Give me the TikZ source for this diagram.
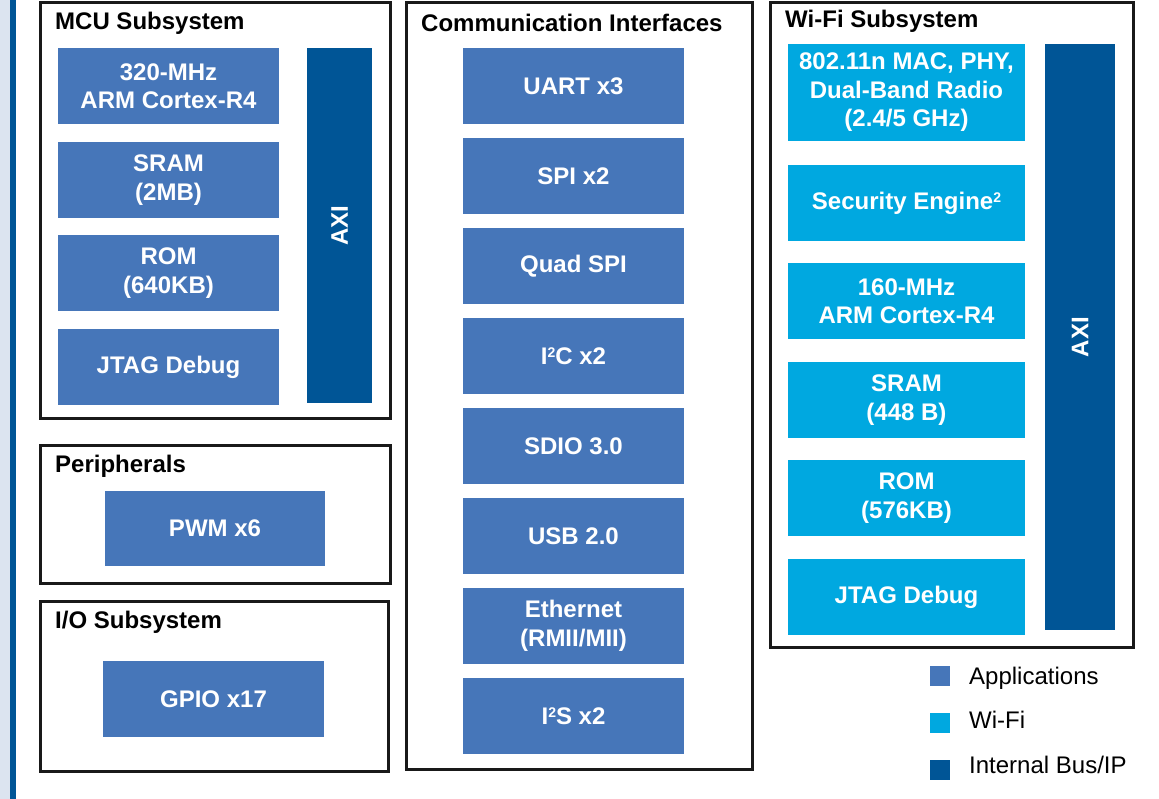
\documentclass[tikz,border=0pt]{standalone}
\usepackage{fontspec}
\setmainfont{Liberation Sans}
\usepackage{tikz}
\usetikzlibrary{positioning}
\definecolor{appcolor}{RGB}{70, 118, 185}
\definecolor{wificolor}{RGB}{0, 168, 224}
\definecolor{buscolor}{RGB}{0, 85, 150}
\definecolor{stripcolor}{RGB}{220, 228, 240}
\newcommand{\supnum}[1]{\raisebox{6.5pt}{\fontsize{14}{14}\selectfont #1}}

\begin{document}
\begin{tikzpicture}[
    x=1pt, y=-1pt,
    frame/.style={draw=black!90, line width=3pt, inner sep=0pt},
    title/.style={font=\fontsize{24}{28}\selectfont\bfseries, anchor=west, inner sep=0pt},
    block/.style={fill=appcolor, text=white, align=center, inner sep=0pt, minimum width=221pt, minimum height=76pt, font=\fontsize{24}{28.5}\selectfont\bfseries},
    wifiblock/.style={block, fill=wificolor, minimum width=237pt},
    bus/.style={fill=buscolor, text=white, inner sep=0pt, font=\fontsize{24}{28}\selectfont\bfseries},
    key/.style={fill=#1, minimum size=20pt, inner sep=0pt},
    keytext/.style={font=\fontsize{24}{28}\selectfont, anchor=west, inner sep=0pt},
]
    \useasboundingbox (0,0) rectangle (1159,799);

    % Side strip
    \fill[stripcolor] (0,0) rectangle (10,799);
    \fill[buscolor] (10,0) rectangle (16,799);

    % MCU subsystem
    \node[frame, minimum width=350pt, minimum height=415pt] (mcu) at (215, 210.5) {};
    \node[title] at (55, 23) {MCU Subsystem};
    \node[block] (mcucpu) at (168.5, 86) {320-MHz\\ARM Cortex-R4};
    \node[block] (mcusram) at (168.5, 180) {SRAM\\(2MB)};
    \node[block] (mcurom) at (168.5, 273) {ROM\\(640KB)};
    \node[block] (mcujtag) at (168.5, 367) {JTAG Debug};
    \node[bus, minimum width=65pt, minimum height=355pt] (mcuaxi) at (339.5, 225.5) {};
    \node[bus, rotate=90] at (mcuaxi.center) {AXI};

    % Peripherals
    \node[frame, minimum width=350pt, minimum height=138pt] (periph) at (215, 514) {};
    \node[title] at (55, 466) {Peripherals};
    \node[block, minimum width=220pt, minimum height=75pt] (pwm) at (215, 528.5) {PWM x6};

    % I/O subsystem
    \node[frame, minimum width=348pt, minimum height=170pt] (io) at (214, 686) {};
    \node[title] at (55, 622) {I/O Subsystem};
    \node[block] (gpio) at (213.5, 699) {GPIO x17};

    % Communication interfaces
    \node[frame, minimum width=346pt, minimum height=766pt] (comm) at (579, 386) {};
    \node[title] at (421, 23) {Communication Interfaces};
    \node[block] (uart) at (573.5, 86) {UART x3};
    \node[block] (spi) at (573.5, 176) {SPI x2};
    \node[block] (qspi) at (573.5, 266) {Quad SPI};
    \node[block] (iic) at (573.5, 356) {I\supnum{2}C x2};
    \node[block] (sdio) at (573.5, 446) {SDIO 3.0};
    \node[block] (usb) at (573.5, 536) {USB 2.0};
    \node[block] (eth) at (573.5, 626) {Ethernet\\(RMII/MII)};
    \node[block] (iis) at (573.5, 716) {I\supnum{2}S x2};

    % Wi-Fi subsystem
    \node[frame, minimum width=363pt, minimum height=644pt] (wifi) at (951.5, 325) {};
    \node[title] at (785, 21) {Wi-Fi Subsystem};
    \node[wifiblock, minimum height=97pt] (radio) at (906.5, 92.5) {802.11n MAC, PHY,\\Dual-Band Radio\\(2.4/5 GHz)};
    \node[wifiblock] (sec) at (906.5, 203) {Security Engine\supnum{2}};
    \node[wifiblock] (wificpu) at (906.5, 301) {160-MHz\\ARM Cortex-R4};
    \node[wifiblock] (wifisram) at (906.5, 400) {SRAM\\(448 B)};
    \node[wifiblock] (wifirom) at (906.5, 498) {ROM\\(576KB)};
    \node[wifiblock] (wifijtag) at (906.5, 597) {JTAG Debug};
    \node[bus, minimum width=70pt, minimum height=586pt] (wifiaxi) at (1080, 337) {};
    \node[bus, rotate=90] at (wifiaxi.center) {AXI};

    % Legend
    \node[key=appcolor] (keyapp) at (940, 676) {};
    \node[keytext] at (969, 678) {Applications};
    \node[key=wificolor] (keywifi) at (940, 723) {};
    \node[keytext] at (969, 720) {Wi-Fi};
    \node[key=buscolor] (keybus) at (940, 770) {};
    \node[keytext] at (969, 765) {Internal Bus/IP};

\end{tikzpicture}
\end{document}
